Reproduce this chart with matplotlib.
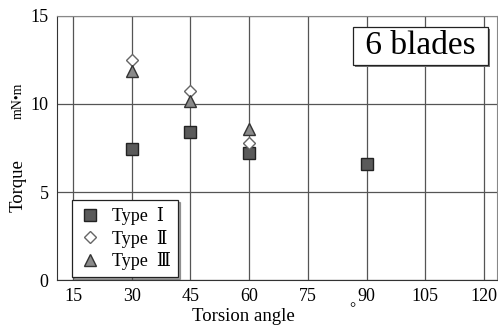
import matplotlib.pyplot as plt
import matplotlib.patheffects as pe

# data
angle_1 = [30, 45, 60, 90]
torque_1 = [7.45, 8.4, 7.2, 6.6]
angle_2 = [30, 45, 60]
torque_2 = [12.5, 10.75, 7.8]
angle_3 = [30, 45, 60]
torque_3 = [11.85, 10.15, 8.6]
xticks = [15, 30, 45, 60, 75, 90, 105, 120]
yticks = [0, 5, 10, 15]


def main():
    plt.rcParams['font.family'] = ['Liberation Serif', 'DejaVu Serif']
    fig = plt.figure(figsize=(4.98, 3.26), dpi=100)
    ax = fig.add_axes([0.1145, 0.141, 0.884, 0.81])

    ax.plot(angle_1, torque_1, linestyle='none', marker='s', markersize=8,
            markerfacecolor='#5a5a5a', markeredgecolor='#222222', label='Type  Ⅰ', zorder=3)
    ax.plot(angle_2, torque_2, linestyle='none', marker='D', markersize=6,
            markerfacecolor='white', markeredgecolor='#666666', label='Type  Ⅱ', zorder=3)
    ax.plot(angle_3, torque_3, linestyle='none', marker='^', markersize=8.5,
            markerfacecolor='#8a8a8a', markeredgecolor='#333333', label='Type  Ⅲ', zorder=3)

    ax.set_xlim(10.9, 123.4)
    ax.set_ylim(0, 15)
    ax.set_xticks(xticks)
    ax.set_yticks(yticks)
    ax.tick_params(length=0, labelsize=13, pad=6)
    ax.grid(True, color='#555555', linewidth=0.9)
    ax.set_axisbelow(True)
    for s in ['top', 'right']:
        ax.spines[s].set_color('#888888')
    for s in ['left', 'bottom']:
        ax.spines[s].set_color('#333333')

    fig.text(0.488, 0.03, 'Torsion angle', fontsize=13.5, ha='center', va='center')
    fig.text(0.707, 0.052, '°', fontsize=11, ha='center', va='center')
    fig.text(0.036, 0.43, 'Torque', fontsize=13.5, rotation=90,
             ha='center', va='center')
    fig.text(0.036, 0.69, 'mN•m', fontsize=10, rotation=90,
             ha='center', va='center')

    leg = ax.legend(loc='lower left', bbox_to_anchor=(0.034, 0.01), fontsize=13,
                    frameon=True, fancybox=False, shadow={'ox': 1.5, 'oy': -1.5},
                    handletextpad=0.6, borderpad=0.4, labelspacing=0.25,
                    handlelength=1.2, borderaxespad=0)
    leg.get_frame().set_edgecolor('#222222')
    leg.get_frame().set_linewidth(0.9)

    t = ax.text(0.97, 0.886, ' 6 blades ', transform=ax.transAxes, fontsize=24,
                ha='right', va='center',
                bbox=dict(boxstyle='square,pad=0.12', facecolor='white',
                          edgecolor='#222222', linewidth=0.9))
    t.get_bbox_patch().set_path_effects([
        pe.SimplePatchShadow(offset=(1.5, -1.5), shadow_rgbFace='#777777', alpha=1),
        pe.Normal()])

    plt.savefig('out.png')


if __name__ == "__main__":
    main()
